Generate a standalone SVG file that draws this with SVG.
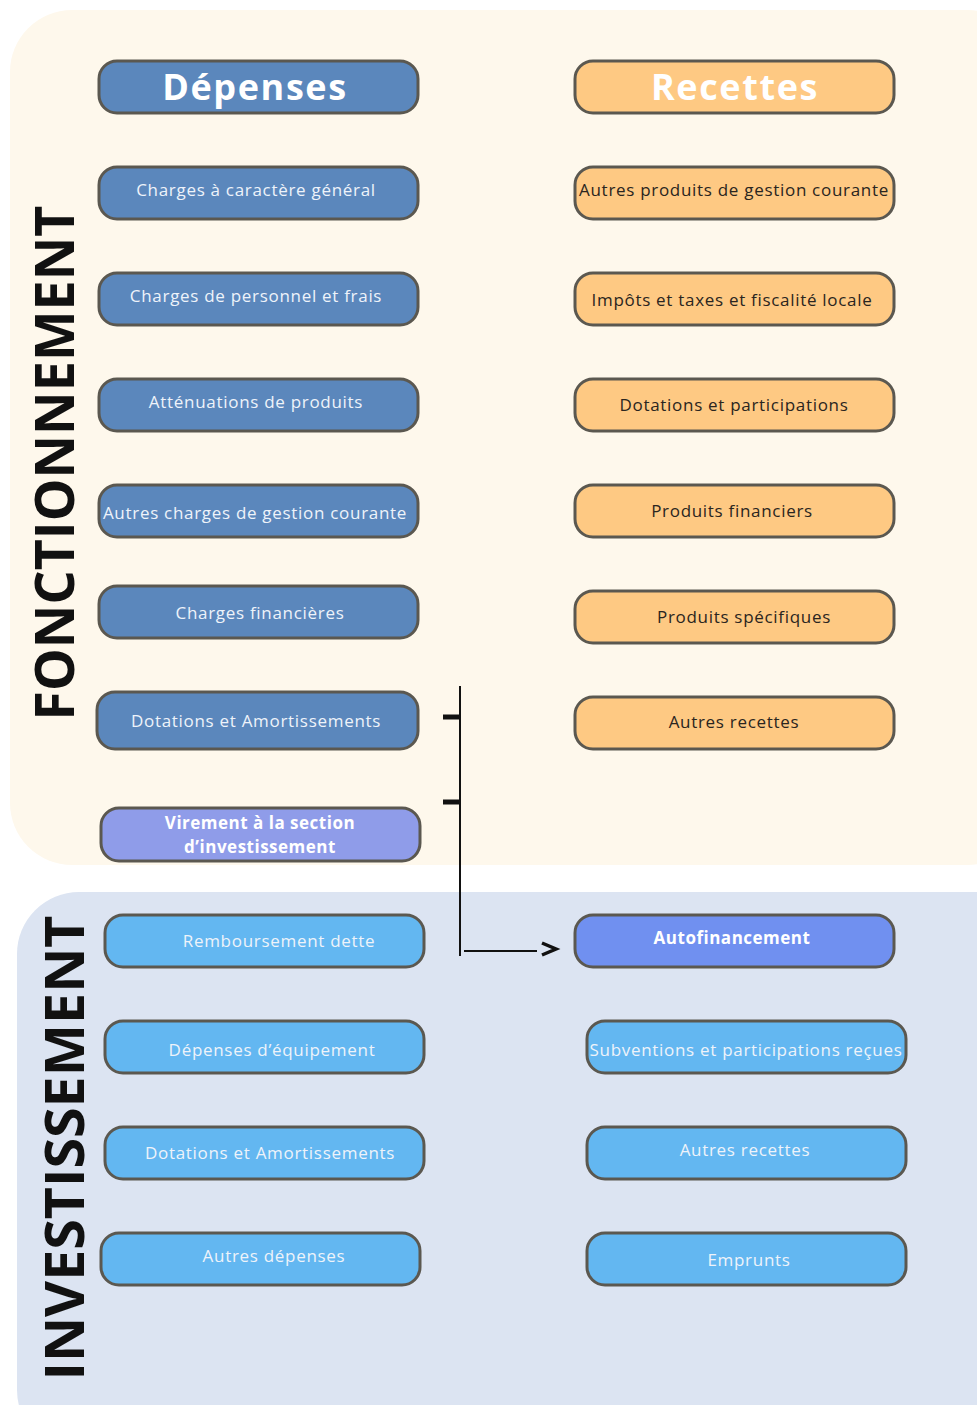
<svg xmlns="http://www.w3.org/2000/svg" width="977" height="1405" viewBox="0 0 977 1405">
<style>
.box{stroke:#5b5850;stroke-width:3}
.dep{fill:#5b87bc}
.rec{fill:#fec983}
.vir{fill:#8f9ce9}
.auto{fill:#7090f0}
.inv{fill:#63b7f1}
text{font-family:"Open Sans","Liberation Sans",sans-serif;text-anchor:middle}
.t{font-size:17px;fill:#eef3fa;letter-spacing:0.7px}
.td{font-size:17px;fill:#2a2520;letter-spacing:0.7px}
.tb{font-size:17px;font-weight:bold;fill:#ffffff;letter-spacing:0.5px}
.h{font-size:36px;font-weight:bold;fill:#ffffff;letter-spacing:1.6px}
.side{font-size:53px;font-weight:bold;fill:#111111}
.con{stroke:#111;fill:none}
</style>
<rect width="977" height="1405" fill="#ffffff"/>
<g id="section-fonctionnement">
<rect x="10" y="10" width="1020" height="855" rx="62" fill="#fef8ec"/>
<text class="side" transform="translate(74,463) rotate(-90)" textLength="515" lengthAdjust="spacingAndGlyphs">FONCTIONNEMENT</text>
</g>
<g id="section-investissement">
<rect x="17" y="892" width="1020" height="560" rx="62" fill="#dce4f2"/>
<text class="side" transform="translate(84,1148) rotate(-90)" textLength="465" lengthAdjust="spacingAndGlyphs">INVESTISSEMENT</text>
</g>
<g id="connectors">
<line class="con" x1="460" y1="686" x2="460" y2="956" stroke-width="2"/>
<line class="con" x1="443" y1="717" x2="460" y2="717" stroke-width="5"/>
<line class="con" x1="443" y1="802" x2="460" y2="802" stroke-width="5"/>
<line class="con" x1="464" y1="951" x2="537" y2="951" stroke-width="2"/>
<polyline class="con" points="542,943 556,949 542,955" stroke-width="3.5"/>
</g>
<g id="n-depenses"><rect class="box dep" x="99" y="61" width="319" height="52" rx="18"/><text class="h" x="255" y="100">Dépenses</text></g>
<g id="n-recettes"><rect class="box rec" x="575" y="61" width="319" height="52" rx="18"/><text class="h" x="735" y="100">Recettes</text></g>
<g id="n-charges-gen"><rect class="box dep" x="99" y="167" width="319" height="52" rx="18"/><text class="t" x="256" y="196">Charges à caractère général</text></g>
<g id="n-charges-pers"><rect class="box dep" x="99" y="273" width="319" height="52" rx="18"/><text class="t" x="256" y="302">Charges de personnel et frais</text></g>
<g id="n-attenuations"><rect class="box dep" x="99" y="379" width="319" height="52" rx="18"/><text class="t" x="256" y="408">Atténuations de produits</text></g>
<g id="n-autres-charges"><rect class="box dep" x="99" y="485" width="319" height="52" rx="18"/><text class="t" x="255" y="519">Autres charges de gestion courante</text></g>
<g id="n-charges-fin"><rect class="box dep" x="99" y="586" width="319" height="52" rx="18"/><text class="t" x="260" y="619">Charges financières</text></g>
<g id="n-dotations-f"><rect class="box dep" x="97" y="692" width="321" height="57" rx="18"/><text class="t" x="256" y="727">Dotations et Amortissements</text></g>
<g id="n-virement"><rect class="box vir" x="101" y="808" width="319" height="53" rx="18"/><text class="tb" x="260" y="829">Virement à la section</text><text class="tb" x="260" y="853">d’investissement</text></g>
<g id="n-autres-produits"><rect class="box rec" x="575" y="167" width="319" height="52" rx="18"/><text class="td" x="734" y="196">Autres produits de gestion courante</text></g>
<g id="n-impots"><rect class="box rec" x="575" y="273" width="319" height="52" rx="18"/><text class="td" x="732" y="306">Impôts et taxes et fiscalité locale</text></g>
<g id="n-dotations-part"><rect class="box rec" x="575" y="379" width="319" height="52" rx="18"/><text class="td" x="734" y="411">Dotations et participations</text></g>
<g id="n-produits-fin"><rect class="box rec" x="575" y="485" width="319" height="52" rx="18"/><text class="td" x="732" y="517">Produits financiers</text></g>
<g id="n-produits-spec"><rect class="box rec" x="575" y="591" width="319" height="52" rx="18"/><text class="td" x="744" y="623">Produits spécifiques</text></g>
<g id="n-autres-recettes-f"><rect class="box rec" x="575" y="697" width="319" height="52" rx="18"/><text class="td" x="734" y="728">Autres recettes</text></g>
<g id="n-remboursement"><rect class="box inv" x="105" y="915" width="319" height="52" rx="18"/><text class="t" x="279" y="947">Remboursement dette</text></g>
<g id="n-depenses-equip"><rect class="box inv" x="105" y="1021" width="319" height="52" rx="18"/><text class="t" x="272" y="1056">Dépenses d’équipement</text></g>
<g id="n-dotations-i"><rect class="box inv" x="105" y="1127" width="319" height="52" rx="18"/><text class="t" x="270" y="1159">Dotations et Amortissements</text></g>
<g id="n-autres-depenses"><rect class="box inv" x="101" y="1233" width="319" height="52" rx="18"/><text class="t" x="274" y="1262">Autres dépenses</text></g>
<g id="n-autofinancement"><rect class="box auto" x="575" y="915" width="319" height="52" rx="18"/><text class="tb" x="732" y="944">Autofinancement</text></g>
<g id="n-subventions"><rect class="box inv" x="587" y="1021" width="319" height="52" rx="18"/><text class="t" x="746" y="1056">Subventions et participations reçues</text></g>
<g id="n-autres-recettes-i"><rect class="box inv" x="587" y="1127" width="319" height="52" rx="18"/><text class="t" x="745" y="1156">Autres recettes</text></g>
<g id="n-emprunts"><rect class="box inv" x="587" y="1233" width="319" height="52" rx="18"/><text class="t" x="749" y="1266">Emprunts</text></g>
</svg>
